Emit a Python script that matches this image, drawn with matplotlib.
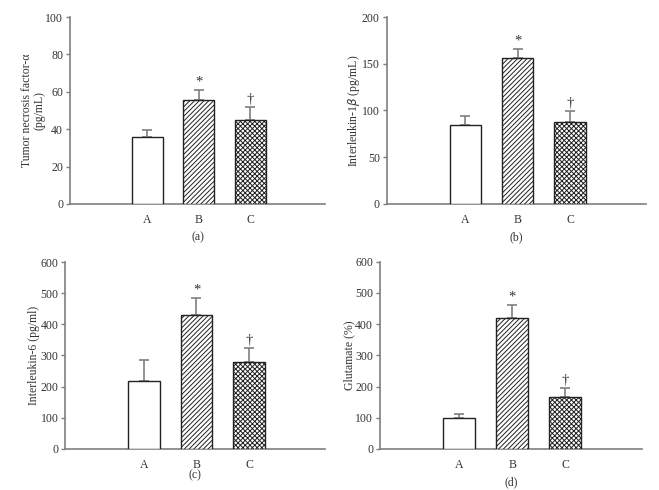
import numpy as np
import matplotlib
matplotlib.use('Agg')
import matplotlib.pyplot as plt

plt.rcParams['font.family'] = ['Liberation Serif', 'DejaVu Serif']
plt.rcParams['hatch.linewidth'] = 0.7

# dados
grupos = ['A', 'B', 'C']
tnf = [35.8, 55.6, 44.9]
tnf_err = [3.8, 5.4, 6.8]
il1b = [84.2, 156.5, 87.4]
il1b_err = [9.6, 9.0, 11.7]
il6 = [217, 429, 278]
il6_err = [67, 54, 45]
glut = [100, 420, 165]
glut_err = [11, 41, 30]

marcas = ['', '*', '\u2020']
hachuras = ['', '///////', 'xxxxxxx']

paineis = [
    (tnf, tnf_err, 'Tumor necrosis factor-\u03b1\n(pg/mL)', (0, 100), 20, '(a)', 24, [0.1062, 0.5837, 0.387, 0.3816]),
    (il1b, il1b_err, 'Interleukin-1$\\beta$ (pg/mL)', (0, 200), 50, '(b)', 24, [0.5868, 0.5837, 0.3935, 0.3816]),
    (il6, il6_err, 'Interleukin-6 (pg/ml)', (0, 600), 100, '(c)', 19, [0.0991, 0.0837, 0.3941, 0.3816]),
    (glut, glut_err, 'Glutamate (%)', (0, 600), 100, '(d)', 24, [0.5766, 0.0837, 0.3971, 0.3823]),
]

cinza = '#7f7f7f'
texto = '#333333'
fig = plt.figure(figsize=(6.59, 4.9), dpi=100)

for vals, errs, ylab, ylim, passo, letra, desloc, pos in paineis:
    ax = fig.add_axes(pos)
    x = np.arange(len(grupos))
    for i in range(len(grupos)):
        ax.bar(x[i], vals[i], width=0.6, color='white', edgecolor='#222222',
               linewidth=1.0, hatch=hachuras[i], zorder=3)
        ax.errorbar(x[i], vals[i], yerr=[[0], [errs[i]]], fmt='none',
                    ecolor=cinza, elinewidth=1.2, capsize=3.5, capthick=1.2, zorder=2)
        if marcas[i]:
            ax.text(x[i], vals[i] + errs[i] + (ylim[1] * 0.008), marcas[i],
                    ha='center', va='bottom', fontsize=10.5, color=texto)
    ax.set_xlim(-1.5, 3.45)
    ax.set_ylim(*ylim)
    ax.set_yticks(np.arange(ylim[0], ylim[1] + 1, passo))
    ax.set_xticks(x)
    ax.set_xticklabels(grupos)
    ax.tick_params(axis='x', length=0, pad=7, labelsize=8.5, colors=texto)
    ax.tick_params(axis='y', length=3, width=1, color=cinza, labelsize=8.5, labelcolor=texto, pad=2)
    for s in ['top', 'right']:
        ax.spines[s].set_visible(False)
    for s in ['left', 'bottom']:
        ax.spines[s].set_color(cinza)
        ax.spines[s].set_linewidth(1.2)
    ax.set_ylabel(ylab, fontsize=8.5, color=texto, linespacing=1.0, labelpad=0)
    ax.annotate(letra, xy=(0.5, 0), xycoords='axes fraction', xytext=(0, -desloc),
                textcoords='offset points', ha='center', va='center',
                fontsize=8.5, color=texto)

fig.savefig('out.png', dpi=100)
